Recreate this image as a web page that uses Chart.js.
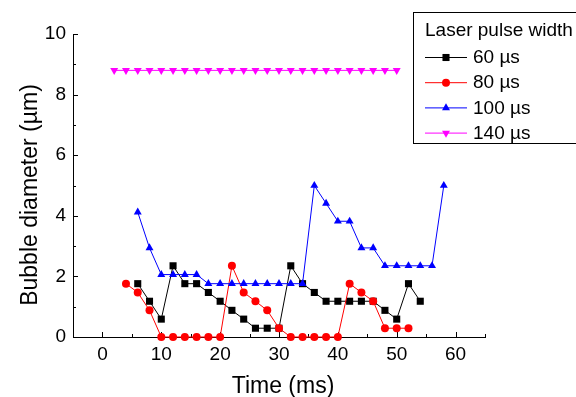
<!DOCTYPE html>
<html>
<head>
<meta charset="utf-8">
<script src="https://cdn.jsdelivr.net/npm/chart.js@4/dist/chart.umd.min.js"></script>
<style>
    html, body { margin: 0; padding: 0; background: #fff; }
    #wrap { width: 576px; height: 397px; }
</style>
</head>
<body>
<div id="wrap"><canvas id="bubbleChart"></canvas></div>
<script>
// time (ms) and bubble diameter (µm)
const time60 = [6, 8, 10, 12, 14, 16, 18, 20, 22, 24, 26, 28, 30, 32, 34, 36, 38, 40, 42, 44, 46, 48, 50, 52, 54];
const dia60 = [1.76, 1.18, 0.59, 2.35, 1.76, 1.76, 1.47, 1.18, 0.88, 0.59, 0.29, 0.29, 0.29, 2.35, 1.76, 1.47, 1.18, 1.18, 1.18, 1.18, 1.18, 0.88, 0.59, 1.76, 1.18];

const time80 = [4, 6, 8, 10, 12, 14, 16, 18, 20, 22, 24, 26, 28, 30, 32, 34, 36, 38, 40, 42, 44, 46, 48, 50, 52];
const dia80 = [1.76, 1.47, 0.88, 0, 0, 0, 0, 0, 0, 2.35, 1.47, 1.18, 0.88, 0.29, 0, 0, 0, 0, 0, 1.76, 1.47, 1.18, 0.29, 0.29, 0.29];

const time100 = [6, 8, 10, 12, 14, 16, 18, 20, 22, 24, 26, 28, 30, 32, 34, 36, 38, 40, 42, 44, 46, 48, 50, 52, 54, 56, 58];
const dia100 = [4.12, 2.94, 2.06, 2.06, 2.06, 2.06, 1.76, 1.76, 1.76, 1.76, 1.76, 1.76, 1.76, 1.76, 1.76, 5.0, 4.41, 3.82, 3.82, 2.94, 2.94, 2.35, 2.35, 2.35, 2.35, 2.35, 5.0];

const time140 = [2, 4, 6, 8, 10, 12, 14, 16, 18, 20, 22, 24, 26, 28, 30, 32, 34, 36, 38, 40, 42, 44, 46, 48, 50];
const dia140 = [8.8, 8.8, 8.8, 8.8, 8.8, 8.8, 8.8, 8.8, 8.8, 8.8, 8.8, 8.8, 8.8, 8.8, 8.8, 8.8, 8.8, 8.8, 8.8, 8.8, 8.8, 8.8, 8.8, 8.8, 8.8];

const seriesLabels = ['60 \u00b5s', '80 \u00b5s', '100 \u00b5s', '140 \u00b5s'];
const xTickValues = [0, 10, 20, 30, 40, 50, 60];
const xMinorValues = [5, 15, 25, 35, 45, 55, 65];
const yTickValues = [0, 2, 4, 6, 8, 10];
const yMinorValues = [1, 3, 5, 7, 9];

const FONT = "'Liberation Sans', Arial, sans-serif";
Chart.defaults.font.family = FONT;
Chart.defaults.color = '#000';

function toPoints(xs, ys) {
    return xs.map((x, i) => ({ x: x, y: ys[i] }));
}

function makeSeries(label, xs, ys, color, style, radius, rotation, order) {
    return {
        label: label,
        data: toPoints(xs, ys),
        borderColor: color,
        backgroundColor: color,
        borderWidth: 1,
        pointStyle: style,
        pointRadius: radius,
        pointRotation: rotation,
        pointBorderWidth: 0,
        pointBackgroundColor: color,
        tension: 0,
        clip: false,
        order: order
    };
}

// small marker drawer for the legend box
function drawMarker(ctx, style, x, y, r, rotation, color) {
    ctx.save();
    ctx.fillStyle = color;
    ctx.beginPath();
    if (style === 'rect') {
        const s = r * Math.SQRT1_2;
        ctx.rect(x - s, y - s, 2 * s, 2 * s);
    } else if (style === 'circle') {
        ctx.arc(x, y, r, 0, Math.PI * 2);
    } else {
        const sign = rotation === 180 ? -1 : 1;
        const h = r * 0.866;
        ctx.moveTo(x, y - sign * r);
        ctx.lineTo(x - h, y + sign * r / 2);
        ctx.lineTo(x + h, y + sign * r / 2);
        ctx.closePath();
    }
    ctx.fill();
    ctx.restore();
}

// inward tick marks, like the original plot
const tickMarks = {
    id: 'tickMarks',
    beforeDatasetsDraw(chart) {
        const ctx = chart.ctx;
        const xs = chart.scales.x;
        const ys = chart.scales.y;
        const area = chart.chartArea;
        ctx.save();
        ctx.strokeStyle = '#000';
        ctx.lineWidth = 1;
        ctx.beginPath();
        xTickValues.concat(xMinorValues).forEach(v => {
            const len = xTickValues.includes(v) ? 5 : 3;
            const px = Math.round(xs.getPixelForValue(v)) + 0.5;
            ctx.moveTo(px, area.bottom);
            ctx.lineTo(px, area.bottom - len);
        });
        yTickValues.concat(yMinorValues).forEach(v => {
            const len = yTickValues.includes(v) ? 5 : 3;
            const py = Math.round(ys.getPixelForValue(v)) + 0.5;
            ctx.moveTo(area.left, py);
            ctx.lineTo(area.left + len, py);
        });
        ctx.stroke();
        ctx.restore();
    }
};

const titlesAndLegend = {
    id: 'titlesAndLegend',
    afterDraw(chart) {
        const ctx = chart.ctx;
        ctx.save();
        ctx.fillStyle = '#000';
        ctx.font = '23px ' + FONT;
        ctx.textAlign = 'center';
        ctx.textBaseline = 'alphabetic';
        ctx.fillText('Time (ms)', 283, 393);

        ctx.save();
        ctx.translate(37, 195);
        ctx.rotate(-Math.PI / 2);
        ctx.fillText('Bubble diameter (\u00b5m)', 0, 0);
        ctx.restore();

        // legend box
        ctx.strokeStyle = '#000';
        ctx.lineWidth = 1;
        ctx.strokeRect(413.5, 12.5, 180, 131);
        ctx.font = '19px ' + FONT;
        ctx.textAlign = 'left';
        ctx.textBaseline = 'middle';
        ctx.fillText('Laser pulse width', 425, 31);
        chart.data.datasets.forEach((ds, i) => {
            const y = 57 + i * 25.2;
            ctx.strokeStyle = ds.borderColor;
            ctx.beginPath();
            ctx.moveTo(425, y + 0.5);
            ctx.lineTo(467, y + 0.5);
            ctx.stroke();
            drawMarker(ctx, ds.pointStyle, 446, y + 0.5, ds.pointRadius, ds.pointRotation, ds.borderColor);
            ctx.fillStyle = '#000';
            ctx.fillText(ds.label, 473, y + 1);
        });
        ctx.restore();
    }
};

new Chart(document.getElementById('bubbleChart'), {
    type: 'line',
    data: {
        datasets: [
            makeSeries(seriesLabels[0], time60, dia60, '#000000', 'rect', 5, 0, 4),
            makeSeries(seriesLabels[1], time80, dia80, '#ff0000', 'circle', 4, 0, 3),
            makeSeries(seriesLabels[2], time100, dia100, '#0000ff', 'triangle', 4.6, 0, 2),
            makeSeries(seriesLabels[3], time140, dia140, '#ff00ff', 'triangle', 4.6, 180, 1)
        ]
    },
    options: {
        responsive: true,
        maintainAspectRatio: false,
        animation: false,
        layout: { padding: { top: 34, right: 91, left: 0, bottom: 0 } },
        plugins: {
            legend: { display: false },
            tooltip: { enabled: false }
        },
        scales: {
            x: {
                type: 'linear',
                min: -5,
                max: 65,
                afterBuildTicks: scale => { scale.ticks = xTickValues.map(v => ({ value: v })); },
                afterFit: scale => { scale.height = 60; },
                grid: { drawOnChartArea: false, drawTicks: false },
                border: { display: true, color: '#000', width: 1 },
                ticks: { padding: 6, font: { size: 19 }, color: '#000', maxRotation: 0 }
            },
            y: {
                type: 'linear',
                min: 0,
                max: 10,
                afterBuildTicks: scale => { scale.ticks = yTickValues.map(v => ({ value: v })); },
                afterFit: scale => { scale.width = 73; },
                grid: { drawOnChartArea: false, drawTicks: false },
                border: { display: true, color: '#000', width: 1 },
                ticks: { padding: 7, font: { size: 19 }, color: '#000' }
            }
        }
    },
    plugins: [tickMarks, titlesAndLegend]
});
</script>
</body>
</html>
